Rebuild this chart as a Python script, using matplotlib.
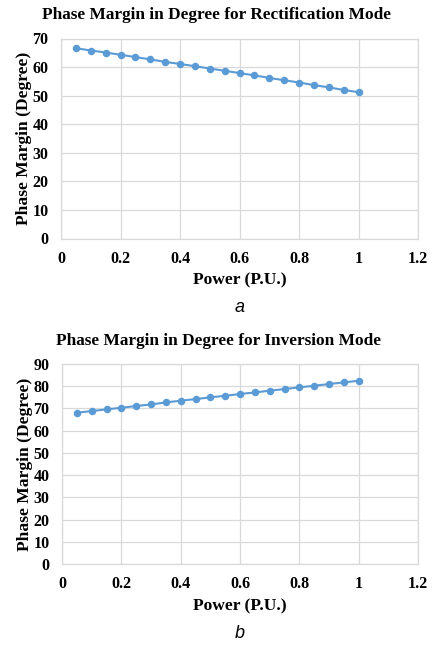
import numpy as np
from matplotlib import pyplot as pl

power = [0.05, 0.1, 0.15, 0.2, 0.25, 0.3, 0.35, 0.4, 0.45, 0.5,
         0.55, 0.6, 0.65, 0.7, 0.75, 0.8, 0.85, 0.9, 0.95, 1.0]
pm_rect = [66.6, 65.8, 65.1, 64.3, 63.5, 62.7, 61.8, 61.1, 60.3, 59.5,
           58.7, 57.9, 57.1, 56.2, 55.4, 54.6, 53.7, 52.9, 52.0, 51.2]
pm_inv = [68.1, 68.8, 69.6, 70.3, 71.1, 71.8, 72.7, 73.5, 74.2, 75.0,
          75.7, 76.5, 77.2, 78.0, 78.7, 79.5, 80.2, 81.0, 81.7, 82.5]

x_ticks = [0, 0.2, 0.4, 0.6, 0.8, 1, 1.2]
x_tick_labels = ["0", "0.2", "0.4", "0.6", "0.8", "1", "1.2"]

BLUE = "#5B9BD5"
GRID = "#d9d9d9"
SERIF = "Liberation Serif"
W, H = 433.0, 646.0


def draw_panel(ax, ys, ymax, title, letter, title_x):
    ax.plot(power, ys, color=BLUE, lw=1.5, marker="o", ms=4.4, zorder=3)
    ax.set_xlim(0, 1.2)
    ax.set_ylim(0, ymax)
    ax.set_xticks(x_ticks)
    ax.set_xticklabels(x_tick_labels)
    ax.set_yticks(np.arange(0, ymax + 1, 10))
    ax.grid(True, color=GRID, lw=0.9)
    ax.set_axisbelow(True)
    for s in ax.spines.values():
        s.set_color(GRID)
        s.set_linewidth(0.9)
    ax.tick_params(length=0, labelsize=11.5)
    ax.tick_params(axis="x", pad=9)
    ax.tick_params(axis="y", pad=9)
    for lab in ax.get_xticklabels() + ax.get_yticklabels():
        lab.set_family(SERIF)
        lab.set_fontweight("bold")
    # title sits on the figure centre, not the axes centre
    ax.set_title(title, family=SERIF, fontweight="bold", fontsize=12.4, pad=14, x=title_x)
    ax.set_xlabel("Power (P.U.)", family=SERIF, fontweight="bold", fontsize=12.6, labelpad=4)
    ax.set_ylabel("Phase Margin (Degree)", family=SERIF, fontweight="bold", fontsize=12.6, labelpad=0)
    ax.text(0.5, -0.345, letter, transform=ax.transAxes, ha="center", va="center",
            family="Liberation Sans", style="italic", fontsize=13)


fig = pl.figure(figsize=(4.33, 6.46), dpi=100)

ax1 = fig.add_axes([61 / W, 1 - 238.5 / H, (418 - 61) / W, 200 / H])
draw_panel(ax1, pm_rect, 70, "Phase Margin in Degree for Rectification Mode", "a",
           (217 - 61) / 357.0)

ax2 = fig.add_axes([62 / W, 1 - 564 / H, (418 - 62) / W, 200 / H])
draw_panel(ax2, pm_inv, 90, "Phase Margin in Degree for Inversion Mode", "b",
           (219 - 62) / 356.0)

fig.savefig("out.png", dpi=100)
